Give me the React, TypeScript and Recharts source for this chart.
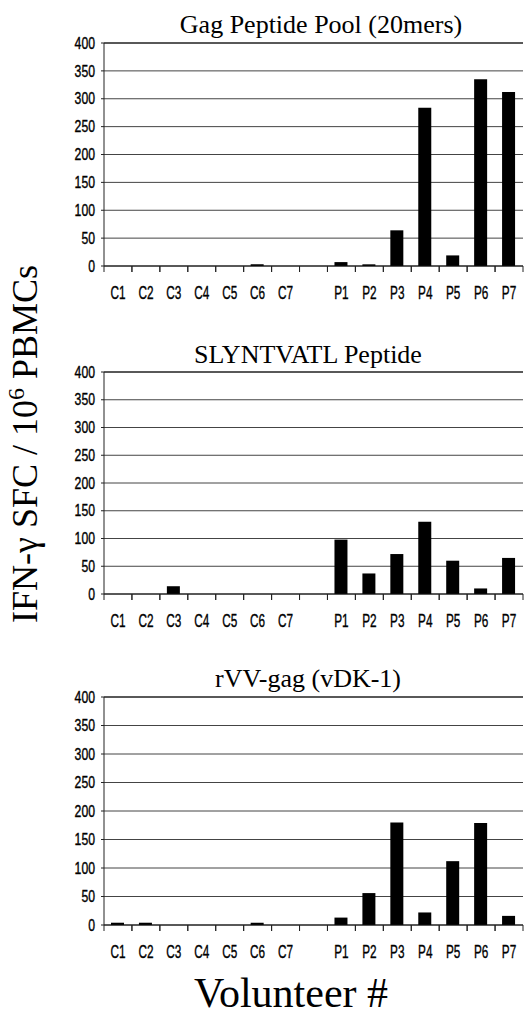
import React from 'react';
import { BarChart, Bar, XAxis, YAxis, CartesianGrid, ReferenceLine } from 'recharts';

// categories (blank slot separates controls from patients)
const volunteers = ['C1', 'C2', 'C3', 'C4', 'C5', 'C6', 'C7', '', 'P1', 'P2', 'P3', 'P4', 'P5', 'P6', 'P7'];

// IFN-gamma SFC per 10^6 PBMCs
const gagPool = [0, 0, 0, 0, 0, 3, 0, 0, 7, 3, 64, 284, 19, 335, 312];
const slyPeptide = [0, 0, 14, 0, 0, 0, 0, 0, 98, 37, 72, 130, 60, 10, 65];
const rvvGag = [4, 4, 0, 0, 0, 4, 0, 0, 13, 56, 180, 22, 112, 179, 16];

const yTicks = [0, 50, 100, 150, 200, 250, 300, 350, 400];
const titles = ['Gag Peptide Pool (20mers)', 'SLYNTVATL Peptide', 'rVV-gag (vDK-1)'];

const W = 524;
const PLOT_LEFT = 104;
const PLOT_RIGHT = 523;
const BAND = (PLOT_RIGHT - PLOT_LEFT) / volunteers.length;
const TOP_PAD = 10;
const sans = 'Liberation Sans, Arial, sans-serif';
const serif = 'Liberation Serif, Times New Roman, serif';

const panels = [
    { title: titles[0], values: gagPool, plotTop: 43, plotH: 223, titleX: 321, titleY: 33 },
    { title: titles[1], values: slyPeptide, plotTop: 372, plotH: 222, titleX: 308, titleY: 363 },
    { title: titles[2], values: rvvGag, plotTop: 697, plotH: 228, titleX: 308, titleY: 687 },
];

const YTick = (props: any) => {
    const { y, payload } = props;
    return (
        <text
            transform={`translate(95, ${y}) scale(0.72, 1)`}
            textAnchor="end"
            dominantBaseline="central"
            fontSize={17}
            fontFamily={sans}
            fill="#000"
            stroke="#000"
            strokeWidth={0.4}
        >
            {payload.value}
        </text>
    );
};

const makeXTick = (axisY: number) => (props: any) => {
    const { x, payload } = props;
    return (
        <g>
            <line x1={x - BAND / 2} x2={x - BAND / 2} y1={axisY} y2={axisY + 6} stroke="#222" />
            <line x1={x + BAND / 2} x2={x + BAND / 2} y1={axisY} y2={axisY + 6} stroke="#222" />
            <text
                transform={`translate(${x}, ${axisY + 26}) scale(0.62, 1)`}
                textAnchor="middle"
                dominantBaseline="central"
                fontSize={19}
                fontFamily={sans}
                fill="#000"
                stroke="#000"
                strokeWidth={0.4}
            >
                {payload.value}
            </text>
        </g>
    );
};

const Panel: React.FC<{ values: number[]; plotTop: number; plotH: number }> = ({ values, plotTop, plotH }) => {
    const data = volunteers.map((name, i) => ({ name, value: values[i] }));
    const height = plotH + TOP_PAD + 50;
    return (
        <div style={{ position: 'absolute', left: 0, top: plotTop - TOP_PAD, width: W, height }}>
            <BarChart width={W} height={height} data={data} margin={{ top: TOP_PAD, right: 1, left: 0, bottom: 0 }}>
                <CartesianGrid vertical={false} stroke="#444" />
                <XAxis
                    dataKey="name"
                    interval={0}
                    height={50}
                    tickLine={false}
                    axisLine={{ stroke: '#111' }}
                    tick={makeXTick(TOP_PAD + plotH)}
                />
                <YAxis
                    width={PLOT_LEFT}
                    domain={[0, 400]}
                    ticks={yTicks}
                    interval={0}
                    tickSize={3}
                    tickLine={{ stroke: '#222' }}
                    axisLine={{ stroke: '#222' }}
                    tick={<YTick />}
                />
                <YAxis
                    yAxisId="right"
                    orientation="right"
                    width={0}
                    domain={[0, 400]}
                    tick={false}
                    tickLine={false}
                    axisLine={{ stroke: '#111' }}
                />
                <ReferenceLine y={400} stroke="#111" />
                <Bar dataKey="value" fill="#000" barSize={13} isAnimationActive={false} />
            </BarChart>
        </div>
    );
};

export default function App() {
    return (
        <div style={{ position: 'absolute', left: 0, top: 0, width: W, height: 1016, background: '#fff' }}>
            {panels.map((p) => (
                <Panel key={p.title} values={p.values} plotTop={p.plotTop} plotH={p.plotH} />
            ))}
            <svg width={W} height={1016} style={{ position: 'absolute', left: 0, top: 0, pointerEvents: 'none' }}>
                {panels.map((p) => (
                    <text key={p.title} x={p.titleX} y={p.titleY} textAnchor="middle" fontSize={26} fontFamily={serif} fill="#000">
                        {p.title}
                    </text>
                ))}
                <text transform="translate(37, 444) rotate(-90)" textAnchor="middle" fontSize={36} fontFamily={serif} fill="#000">
                    IFN-γ SFC / 10
                    <tspan dy={-13} fontSize={24}>6</tspan>
                    <tspan dy={13}> PBMCs</tspan>
                </text>
                <text x={291} y={1007} textAnchor="middle" fontSize={42} fontFamily={serif} fill="#000">
                    Volunteer #
                </text>
            </svg>
        </div>
    );
}
